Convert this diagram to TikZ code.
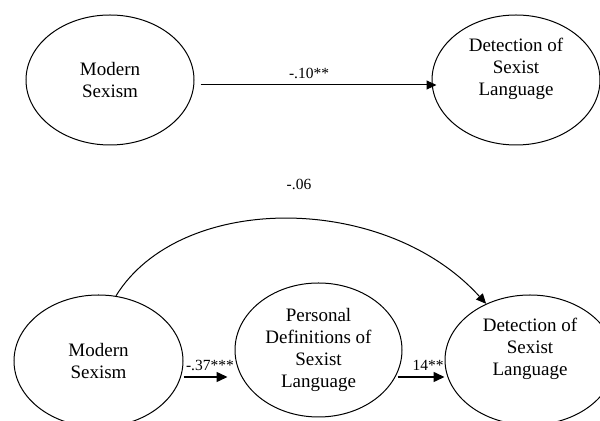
\documentclass[tikz,border=0pt]{standalone}
\usepackage{fontspec}
\setmainfont{Liberation Serif}
\usetikzlibrary{positioning,arrows.meta,shapes.geometric}
\tikzset{
  latent/.style={ellipse, draw=black, line width=0.5pt, inner sep=0pt,
                 minimum width=84pt, minimum height=65pt, align=center,
                 font=\fontsize{9.5}{11}\selectfont},
  txtup/.style={align=center, font=\fontsize{9.5}{11}\selectfont, yshift=5.5pt},
  lbl/.style={font=\fontsize{7.75}{9}\selectfont, inner sep=1pt},
  eff/.style={-{Triangle[length=5pt,width=4.5pt]}, line width=0.5pt},
  effb/.style={-{Triangle[length=5.5pt,width=5pt]}, line width=0.75pt},
}
\begin{document}
\begin{tikzpicture}[x=0.5pt, y=-0.5pt]
  \useasboundingbox (0,0) rectangle (600,421);

  % ---- total effect (top) ----
  \node[latent] (ms1) at (110,80) {Modern\\Sexism};
  \node[latent] (dsl1) at (516,80)
        [label={[txtup]center:{Detection of\\Sexist\\Language}}] {};

  \draw[eff] ([shift={(3pt,-2.5pt)}]ms1.east) --
        node[lbl, above=2pt, pos=0.46]{-.10**} ([shift={(2.5pt,-2.5pt)}]dsl1.west);

  % ---- mediation model (bottom) ----
  \node[latent, minimum width=84.5pt, minimum height=66pt] (ms2) at (98.5,361)
        {Modern\\Sexism};
  \node[latent, minimum width=83.5pt, minimum height=67pt] (pd) at (318.5,350)
        {Personal\\Definitions of\\Sexist\\Language};
  \node[latent, minimum width=85pt] (dsl2) at (530,360)
        [label={[txtup]center:{Detection of\\Sexist\\Language}}] {};

  % direct path coefficient
  \node[lbl] (direct) at (299,184) {-.06};

  \draw[effb] ([yshift=-8pt]ms2.east) --
        node[lbl, above=2pt, pos=0.6]{-.37***} ([shift={(-3.5pt,-13.5pt)}]pd.west);
  \draw[effb] ([shift={(-2.5pt,-13.5pt)}]pd.east) --
        node[lbl, above=2pt, pos=0.65]{14**} ([yshift=-8.5pt]dsl2.west);
  \draw[eff] (ms2.75) .. controls (180,192) and (385,192) .. (dsl2.128);

\end{tikzpicture}
\end{document}
